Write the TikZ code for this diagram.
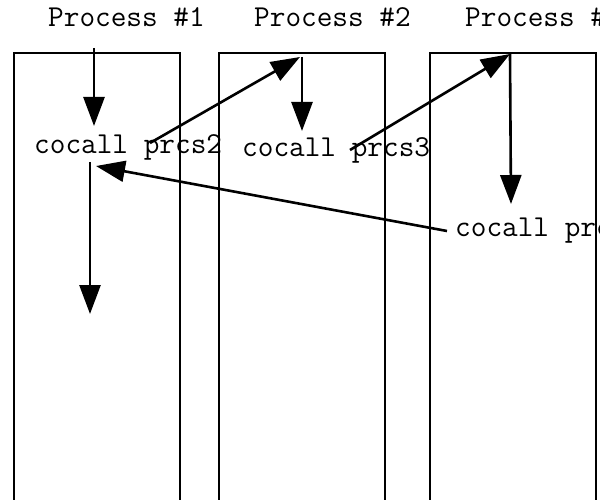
\documentclass[tikz,border=0pt]{standalone}
\usepackage{fontspec}
\usetikzlibrary{arrows.meta}
\begin{document}
\begin{tikzpicture}[x=1pt,y=-1pt,
  lane/.style={draw=black,line width=2pt},
  lbl/.style={font=\ttfamily\fontsize{30.4}{31}\selectfont,inner sep=0pt,anchor=base west},
  flow/.style={line width=2.6pt,-{Triangle[length=29pt,width=21pt]}}]
\useasboundingbox (0,0) rectangle (600,500);
\clip (0,0) rectangle (600,500);
\fill[white] (0,0) rectangle (600,500);
% lanes
\draw[lane] (14,520) -- (14,53) -- (180,53) -- (180,520);
\draw[lane] (219,520) -- (219,53) -- (385,53) -- (385,520);
\draw[lane] (430,520) -- (430,53) -- (596,53) -- (596,520);
% titles
\node[lbl] (t1) at (48,27) {Process \#1};
\node[lbl] (t2) at (254,27) {Process \#2};
\node[lbl] (t3) at (465,27) {Process \#3};
% calls
\node[lbl] (c2) at (34,154) {cocall prcs2};
\node[lbl] (c3) at (242,157) {cocall prcs3};
\node[lbl] (c1) at (455,236) {cocall prcs1};
% coordinates
\coordinate (a1s) at (94,48);
\coordinate (a1e) at (94,126);
\coordinate (a2s) at (150,143);
\coordinate (p2top) at (300,57);
\coordinate (a3e) at (302,131);
\coordinate (a4s) at (350,150);
\coordinate (p3top) at (510,54);
\coordinate (a5e) at (511,204);
\coordinate (a6s) at (447,231);
\coordinate (a6e) at (96,166);
\coordinate (a7s) at (90,162);
\coordinate (a7e) at (90,314);
% arrows
\draw[flow] (a1s) -- (a1e);
\draw[flow] (a2s) -- (p2top);
\draw[flow] (302,57) -- (a3e);
\draw[flow] (a4s) -- (p3top);
\draw[flow] (p3top) -- (a5e);
\draw[flow] (a6s) -- (a6e);
\draw[flow] (a7s) -- (a7e);
\end{tikzpicture}
\end{document}
